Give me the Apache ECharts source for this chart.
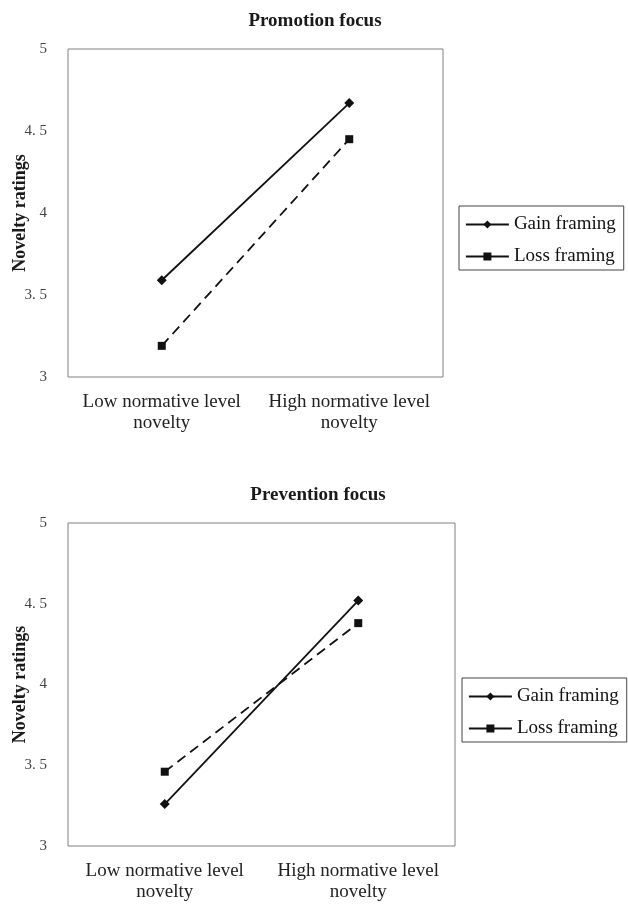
<!DOCTYPE html>
<html>
<head>
<meta charset="utf-8">
<script src="https://cdn.jsdelivr.net/npm/echarts@6/dist/echarts.min.js"></script>
<style>
html,body{margin:0;padding:0;background:#fff;}
#chart{width:628px;height:905px;}
</style>
</head>
<body>
<div id="chart"></div>
<script>
var categories = ['Low normative level\nnovelty', 'High normative level\nnovelty'];
var promotionGain = [3.59, 4.67];
var promotionLoss = [3.19, 4.45];
var preventionGain = [3.26, 4.52];
var preventionLoss = [3.46, 4.38];
var seriesNames = ['Gain framing', 'Loss framing'];
var panelTitles = ['Promotion focus', 'Prevention focus'];
var yAxisName = 'Novelty ratings';
var yMin = 3, yMax = 5, yStep = 0.5;

var FONT = '"Liberation Serif", "Times New Roman", serif';

function yAxisCfg(gi) {
  return {
    type: 'value', gridIndex: gi, min: yMin, max: yMax, interval: yStep,
    name: yAxisName, nameLocation: 'middle', nameGap: 39, nameMoveOverlap: false,
    nameTextStyle: { fontFamily: FONT, fontWeight: 'bold', fontSize: 18, color: '#1a1a1a' },
    axisLine: { show: false }, axisTick: { show: false }, splitLine: { show: false },
    axisLabel: {
      margin: 21, fontFamily: FONT, fontSize: 15, color: '#444',
      formatter: function (v) { return String(v).replace('.', '. '); }
    }
  };
}
function xAxisCfg(gi) {
  return {
    type: 'category', gridIndex: gi, data: categories, boundaryGap: true,
    axisLine: { show: false }, axisTick: { show: false }, splitLine: { show: false },
    axisLabel: { margin: 15, fontFamily: FONT, fontSize: 19, lineHeight: 21, color: '#222', interval: 0 }
  };
}
function lineSeries(name, data, gi, dashed, symbol, size) {
  return {
    type: 'line', name: name, xAxisIndex: gi, yAxisIndex: gi, data: data,
    symbol: symbol, symbolSize: size, showSymbol: true,
    itemStyle: { color: '#111' },
    lineStyle: { color: '#111', width: 1.8, type: dashed ? [10, 6] : 'solid' },
    emphasis: { disabled: true }, animation: false
  };
}
function legendCfg(left, top) {
  return {
    left: left, top: top, orient: 'vertical',
    data: seriesNames,
    borderColor: '#444', borderWidth: 1,
    padding: [9, 8, 4, 6],
    itemWidth: 43, itemHeight: 10, itemGap: 13,
    lineStyle: { type: 'solid', width: 1.8 },
    textStyle: { fontFamily: FONT, fontSize: 19, color: '#111' },
    selectedMode: false
  };
}

var option = {
  backgroundColor: '#fff',
  animation: false,
  title: [
    { text: panelTitles[0], left: 310, top: 7, textAlign: 'center',
      textStyle: { fontFamily: FONT, fontWeight: 'bold', fontSize: 19, color: '#1a1a1a' } },
    { text: panelTitles[1], left: 313, top: 481, textAlign: 'center',
      textStyle: { fontFamily: FONT, fontWeight: 'bold', fontSize: 19, color: '#1a1a1a' } }
  ],
  legend: [legendCfg(459, 206), legendCfg(462, 678)],
  grid: [
    { left: 68, top: 49, width: 375, height: 328, outerBoundsMode: 'none', containLabel: false, show: true, borderColor: '#808080', borderWidth: 1, backgroundColor: 'transparent' },
    { left: 68, top: 523, width: 387, height: 323, outerBoundsMode: 'none', containLabel: false, show: true, borderColor: '#808080', borderWidth: 1, backgroundColor: 'transparent' }
  ],
  xAxis: [xAxisCfg(0), xAxisCfg(1)],
  yAxis: [yAxisCfg(0), yAxisCfg(1)],
  series: [
    lineSeries(seriesNames[0], promotionGain, 0, false, 'diamond', 10),
    lineSeries(seriesNames[1], promotionLoss, 0, true, 'rect', 8),
    lineSeries(seriesNames[0], preventionGain, 1, false, 'diamond', 10),
    lineSeries(seriesNames[1], preventionLoss, 1, true, 'rect', 8)
  ]
};

var chart = echarts.init(document.getElementById('chart'), null, { renderer: 'canvas' });
chart.setOption(option);
</script>
</body>
</html>
